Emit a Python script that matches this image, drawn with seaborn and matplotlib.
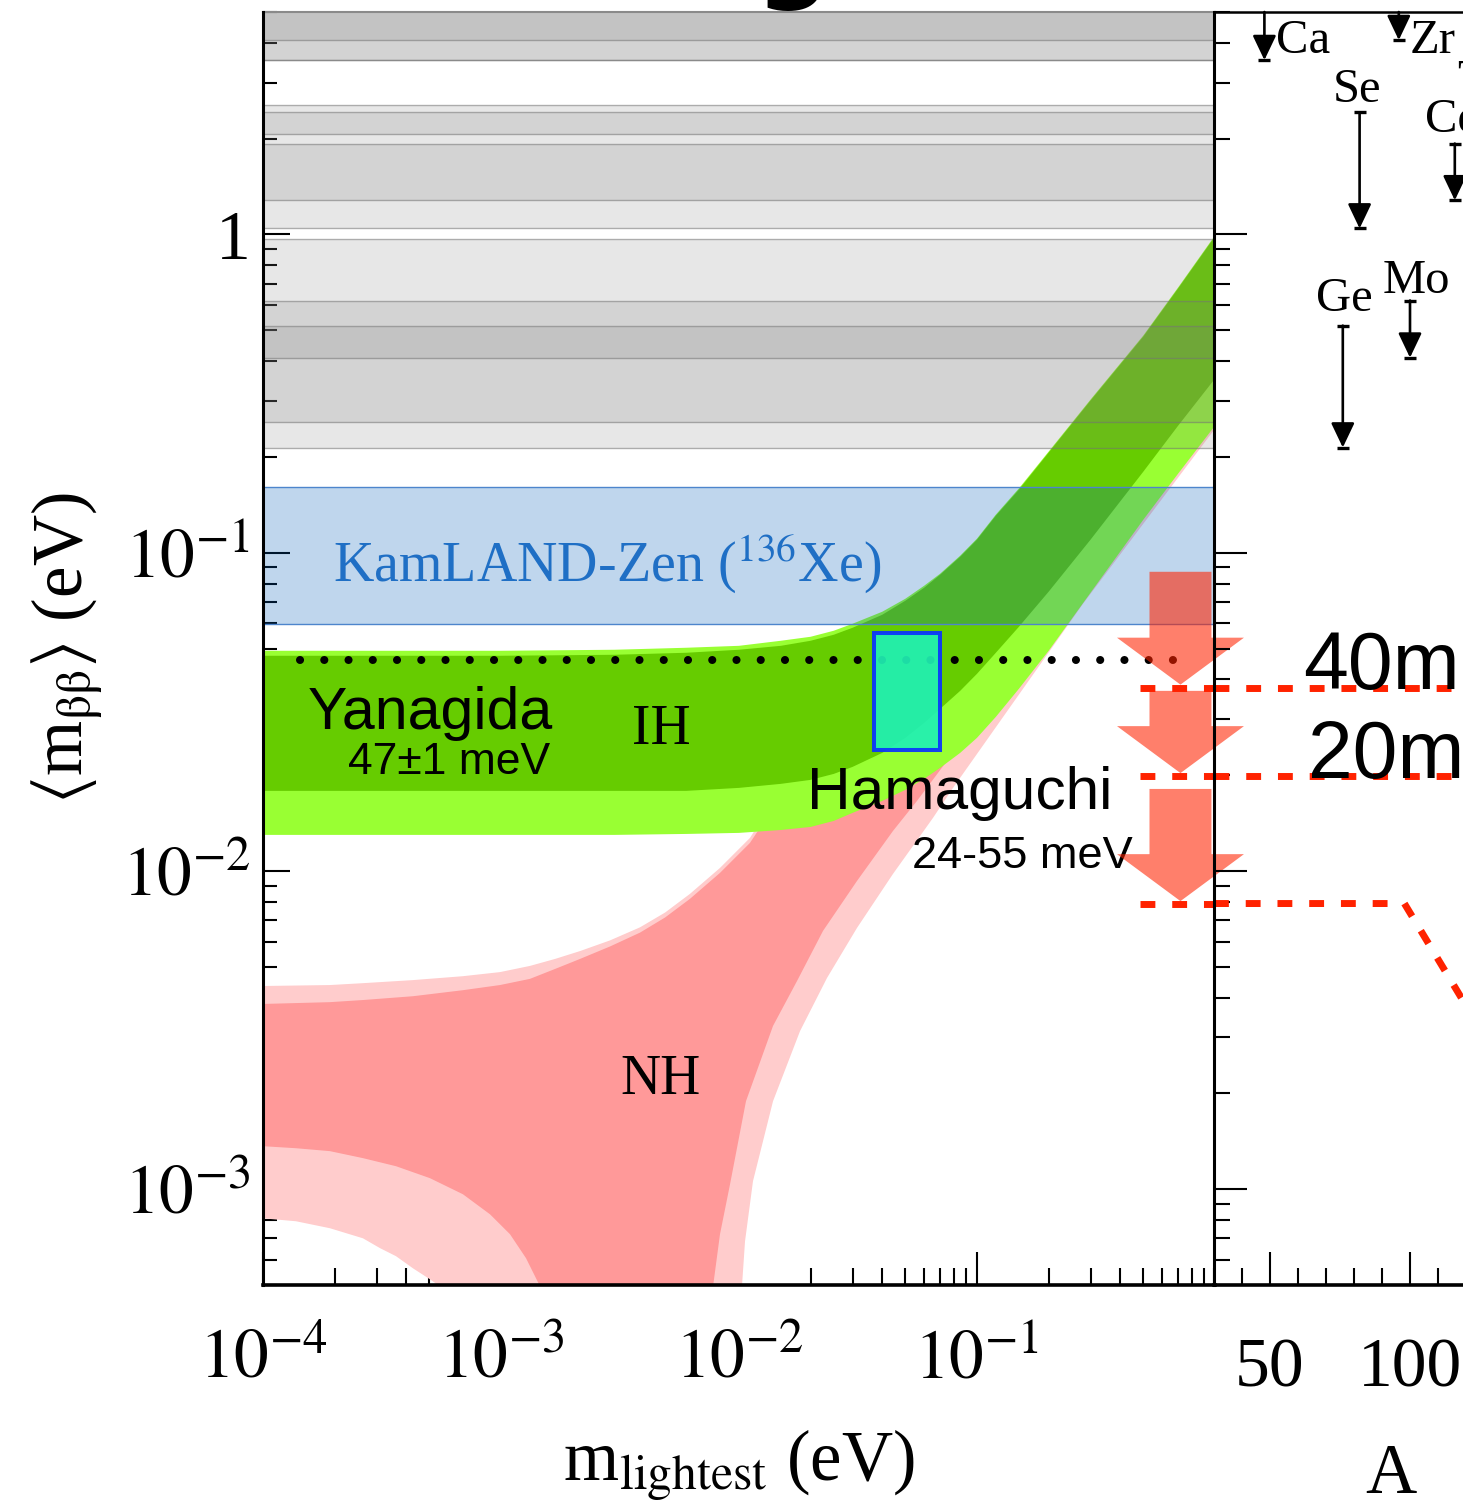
import numpy as np
import matplotlib
matplotlib.use("Agg")
import matplotlib.pyplot as plt
from matplotlib.patches import Rectangle
from matplotlib.ticker import FixedLocator, FixedFormatter, NullFormatter, MultipleLocator, LogLocator
import seaborn as sns

# ---------------- data ----------------
# Inverted hierarchy band (m_lightest in eV, <m_bb> in eV)
ih_x = [1e-4, 1e-3, 3e-3, 0.006, 0.01, 0.015, 0.02, 0.025, 0.03, 0.04, 0.05, 0.06, 0.07, 0.085,
        0.1, 0.12, 0.15, 0.2, 0.3, 0.5, 0.7, 1.0]
ih_outer_upper = [0.04918, 0.04918, 0.04955, 0.05027, 0.05098, 0.05288, 0.05443, 0.05685, 0.05979, 0.06524,
                  0.07166, 0.07875, 0.08590, 0.09786, 0.1107, 0.1317, 0.1592, 0.2078, 0.3028, 0.4814, 0.6814, 0.9928]
ih_inner_upper = [0.04744, 0.04744, 0.04778, 0.04848, 0.04955, 0.05098, 0.05288, 0.05522, 0.05809, 0.06383,
                  0.07063, 0.07762, 0.08526, 0.09714, 0.1099, 0.1307, 0.1578, 0.2063, 0.3006, 0.4778, 0.6765, 0.9856]
ih_inner_lower = [0.01785, 0.01785, 0.01785, 0.01785, 0.01824, 0.01878, 0.01933, 0.02018, 0.02123, 0.02350,
                  0.02620, 0.02920, 0.03232, 0.03681, 0.04164, 0.04848, 0.05851, 0.07541, 0.1099, 0.1798, 0.2507, 0.3525]
ih_outer_lower = [0.01298, 0.01298, 0.01298, 0.01307, 0.01317, 0.01345, 0.01375, 0.01436, 0.01522, 0.01660,
                  0.01798, 0.01947, 0.02108, 0.02350, 0.02620, 0.03049, 0.03736, 0.04918, 0.07486, 0.1270, 0.1772, 0.2507]

# Normal hierarchy band
nh_upper_x = [1e-4, 1.91e-4, 2.63e-4, 4.27e-4, 6.92e-4, 9.90e-4, 1.323e-3, 1.686e-3, 2.147e-3, 2.871e-3,
              3.837e-3, 4.89e-3, 6.22e-3, 8.32e-3, 1.112e-2, 1.487e-2, 2.007e-2, 3.013e-2, 4.98e-2, 0.1, 0.3013, 1.0]
nh_outer_upper_y = [4.35e-3, 4.38e-3, 4.44e-3, 4.54e-3, 4.67e-3, 4.81e-3, 5.03e-3, 5.29e-3, 5.60e-3, 6.05e-3,
                    6.65e-3, 7.40e-3, 8.47e-3, 1.022e-2, 1.270e-2, 1.785e-2, 3.42e-2, 4.57e-2, 6.67e-2, 0.1007, 0.2797, 0.917]
nh_inner_upper_y = [3.82e-3, 3.87e-3, 3.93e-3, 4.04e-3, 4.22e-3, 4.38e-3, 4.58e-3, 4.92e-3, 5.29e-3, 5.79e-3,
                    6.40e-3, 7.14e-3, 8.17e-3, 9.86e-3, 1.225e-2, 1.70e-2, 3.3e-2, 4.4e-2, 6.5e-2, 0.098, 0.27, 0.90]
nh_outer_lowL_x = [1e-4, 1.376e-4, 1.91e-4, 2.63e-4, 3.10e-4, 3.62e-4, 4.27e-4, 5.03e-4, 5.54e-4]
nh_outer_lowL_y = [8.10e-4, 7.93e-4, 7.54e-4, 7.01e-4, 6.53e-4, 6.16e-4, 5.64e-4, 5.21e-4, 4.95e-4]
nh_outer_lowR_x = [1.029e-2, 1.060e-2, 1.145e-2, 1.390e-2, 1.805e-2, 2.343e-2, 3.131e-2, 4.437e-2, 6.533e-2,
                   7.93e-2, 0.2789, 1.0]
nh_outer_lowR_y = [4.95e-4, 6.86e-4, 1.060e-3, 1.891e-3, 3.14e-3, 4.61e-3, 6.62e-3, 9.79e-3, 1.468e-2,
                   1.824e-2, 6.91e-2, 0.2454]
nh_inner_lowL_x = [1e-4, 1.376e-4, 1.91e-4, 2.63e-4, 3.62e-4, 5.03e-4, 6.92e-4, 8.99e-4, 1.091e-3, 1.274e-3, 1.459e-3]
nh_inner_lowL_y = [1.365e-3, 1.345e-3, 1.317e-3, 1.252e-3, 1.181e-3, 1.083e-3, 9.64e-4, 8.34e-4, 7.22e-4, 6.07e-4, 4.95e-4]
nh_inner_lowR_x = [7.78e-3, 8.32e-3, 9.17e-3, 1.070e-2, 1.390e-2, 1.753e-2, 2.254e-2, 3.131e-2, 4.437e-2,
                   5.596e-2, 0.1, 0.2025, 1.0]
nh_inner_lowR_y = [4.95e-4, 7.22e-4, 1.037e-3, 1.891e-3, 3.26e-3, 4.51e-3, 6.48e-3, 9.30e-3, 1.336e-2,
                   1.660e-2, 2.962e-2, 5.90e-2, 0.2797]

# Experimental limit ranges (eV): gray bands, one per experiment, and arrows vs mass number A
exp_names = ["Ca", "Ge", "Se", "Zr", "Mo", "Cd", "Te", "Te2", "Nd"]
exp_lo = [3.53, 0.214, 1.044, 4.08, 0.410, 1.28, 2.063, 0.258, 3.53]
exp_hi = [10.0, 0.517, 2.42, 10.0, 0.620, 1.93, 2.545, 0.971, 10.0]
exp_A = [48, 76, 82, 96, 100, 116, 128, 130, 150]

kamland_range = [0.0598, 0.1612]

yanagida_mbb = 0.046
yanagida_x = [1.43e-4, 0.824]

hamaguchi_m = [0.037, 0.070]
hamaguchi_mbb = [0.024, 0.056]

# future sensitivities (eV)
sens_levels = [0.0376, 0.0199, 0.0079]
sens_arrow_top = [0.0871, 0.0368, 0.0181]
sens_arrow_tip = [0.0385, 0.0203, 0.00804]
sens_labels = ["40meV", "20meV"]

xtick_vals = [1e-4, 1e-3, 1e-2, 1e-1]
xtick_labels = [r"$10^{-4}$", r"$10^{-3}$", r"$10^{-2}$", r"$10^{-1}$"]
ytick_vals = [1e-3, 1e-2, 1e-1, 1.0]
ytick_labels = [r"$10^{-3}$", r"$10^{-2}$", r"$10^{-1}$", "1"]
A_tick_vals = [50, 100]
A_tick_labels = ["50", "100"]

# ---------------- style ----------------
sns.set_style("ticks")
plt.rcParams.update({
    "font.family": ["Liberation Serif", "DejaVu Serif"],
    "mathtext.fontset": "stix",
    "axes.linewidth": 2.2,
    "text.color": "black",
    "axes.labelcolor": "black",
    "axes.edgecolor": "black",
    "xtick.color": "black",
    "ytick.color": "black",
})
SANS = ["Liberation Sans", "DejaVu Sans"]

W, H = 1463, 1511
fig = plt.figure(figsize=(W / 100, H / 100), dpi=100)
ax = fig.add_axes([263 / W, (H - 1285) / H, 952 / W, 1273 / H])
axr = fig.add_axes([1214 / W, (H - 1285) / H, 352.8 / W, 1273 / H])

for a in (ax, axr):
    a.set_yscale("log")
    a.set_ylim(5e-4, 5)
ax.set_xscale("log")
ax.set_xlim(1e-4, 1)
axr.set_xlim(30, 156)
axr.patch.set_alpha(0)


def polygon(up_x, up_y, lowR_x, lowR_y, lowL_x=None, lowL_y=None, floor=1e-7):
    xs = list(up_x) + list(lowR_x)[::-1]
    ys = list(up_y) + list(lowR_y)[::-1]
    if lowL_x is not None:
        xs += [lowR_x[0], lowL_x[-1]] + list(lowL_x)[::-1]
        ys += [floor, floor] + list(lowL_y)[::-1]
    return xs, ys


# NH bands
xs, ys = polygon(nh_upper_x, nh_outer_upper_y, nh_outer_lowR_x, nh_outer_lowR_y, nh_outer_lowL_x, nh_outer_lowL_y)
ax.fill(xs, ys, color="#ffcccc", lw=0, zorder=1.0)
xs, ys = polygon(nh_upper_x, nh_inner_upper_y, nh_inner_lowR_x, nh_inner_lowR_y, nh_inner_lowL_x, nh_inner_lowL_y)
ax.fill(xs, ys, color="#ff9999", lw=0, zorder=1.1)
# IH bands
xs, ys = polygon(ih_x, ih_outer_upper, ih_x, ih_outer_lower)
ax.fill(xs, ys, color="#99ff33", lw=0, zorder=1.2)
xs, ys = polygon(ih_x, ih_inner_upper, ih_x, ih_inner_lower)
ax.fill(xs, ys, color="#66cc00", lw=0, zorder=1.3)

# gray experimental bands
for lo, hi in zip(exp_lo, exp_hi):
    ax.axhspan(lo, hi, facecolor=(0.49, 0.49, 0.49, 0.186),
               edgecolor=(0.45, 0.45, 0.45, 0.55), lw=1.0, zorder=2)
# KamLAND-Zen band
ax.axhspan(kamland_range[0], kamland_range[1], facecolor=(0.0, 0.373, 0.733, 0.25),
           edgecolor=(0.30, 0.52, 0.80, 1.0), lw=1.0, zorder=2.1)

# Yanagida dotted line
sns.lineplot(x=yanagida_x, y=[yanagida_mbb] * 2, ax=ax, color="black", lw=5.8,
             linestyle=(0, (0.01, 3.0)), dash_capstyle="round", zorder=3, sort=False)

# Hamaguchi box
ax.add_patch(Rectangle((hamaguchi_m[0], hamaguchi_mbb[0]),
                       hamaguchi_m[1] - hamaguchi_m[0], hamaguchi_mbb[1] - hamaguchi_mbb[0],
                       facecolor="#20f0b4", alpha=0.92, edgecolor="#0a32ff", lw=2.9, zorder=4))

# texts
ax.text(1.968e-4, 0.0816, r"KamLAND-Zen ($^{136}$Xe)", color="#1f6fc5", fontsize=40.3, va="baseline", zorder=5)
ax.text(1.545e-4, 0.0280, "Yanagida", family=SANS, fontsize=42.5, va="baseline", zorder=5)
ax.text(2.276e-4, 0.0202, "47±1 meV", family=SANS, fontsize=32, va="baseline", zorder=5)
ax.text(3.552e-3, 0.02507, "IH", fontsize=40, va="baseline", zorder=5)
ax.text(0.01931, 0.01567, "Hamaguchi", family=SANS, fontsize=43.5, va="baseline", zorder=5)
ax.text(0.05331, 0.01022, "24-55 meV", family=SANS, fontsize=32.5, va="baseline", zorder=5)
ax.text(3.162e-3, 1.989e-3, "NH", fontsize=40, va="baseline", zorder=5)

# sensitivity arrows
for top, tip in zip(sens_arrow_top, sens_arrow_tip):
    ax.annotate("", xy=(0.716, tip), xytext=(0.716, top),
                arrowprops=dict(arrowstyle="simple,head_length=33.8,head_width=91.4,tail_width=44.6",
                                mutation_scale=1, fc="#ff2200", ec="none", alpha=0.58,
                                shrinkA=0, shrinkB=0),
                annotation_clip=False, zorder=6)

# dashed sensitivity lines
dash = (0, (2.14, 2.43))
for lev in sens_levels:
    sns.lineplot(x=[0.484, 1.0], y=[lev, lev], ax=ax, color="#ff2200", lw=5.0,
                 linestyle=dash, zorder=7, sort=False)
sns.lineplot(x=[30, 156], y=[sens_levels[0]] * 2, ax=axr, color="#ff2200", lw=5.0, linestyle=dash, zorder=7, sort=False)
sns.lineplot(x=[30, 156], y=[sens_levels[1]] * 2, ax=axr, color="#ff2200", lw=5.0, linestyle=dash, zorder=7, sort=False)
sns.lineplot(x=[30, 98, 130], y=[sens_levels[2], sens_levels[2], 0.0027], ax=axr, color="#ff2200",
             lw=5.0, linestyle=dash, zorder=7, sort=False)
for lab, lev, A in zip(sens_labels, [0.03736, 0.01961], [61.8, 63.6]):
    axr.text(A, lev, lab, family=SANS, fontsize=58, va="baseline", zorder=8)

# right panel: limit arrows
for name, A, lo, hi in zip(exp_names, exp_A, exp_lo, exp_hi):
    top = min(hi, 5.0)
    axr.annotate("", xy=(A, lo), xytext=(A, top),
                 arrowprops=dict(arrowstyle="-|>,head_length=0.42,head_width=0.2", mutation_scale=36,
                                 lw=1.9, color="black", shrinkA=0, shrinkB=0))
    axr.plot([A], [lo], marker="_", ms=9, mew=2.4, color="black")
    if hi < 5.0:
        axr.plot([A], [hi], marker="_", ms=9, mew=2.4, color="black")

label_pos = {"Ca": (52.1, 3.709), "Zr": (100.0, 3.709), "Se": (72.5, 2.601), "Cd": (105.4, 2.093),
             "Ge": (66.4, 0.5768), "Mo": (90.4, 0.657), "Te": (116.8, 2.776)}
for name, (A, y) in label_pos.items():
    axr.text(A, y, name, fontsize=35, va="baseline")

# ---------------- axes styling ----------------
ax.spines["right"].set_visible(False)
ax.spines["top"].set_color("#8a8a8a")
ax.spines["top"].set_linewidth(1.5)
ax.spines["bottom"].set_linewidth(2.6)
axr.spines["right"].set_visible(False)
axr.spines["top"].set_linewidth(1.8)
axr.spines["bottom"].set_linewidth(2.6)
for a in (ax, axr):
    a.spines["left"].set_zorder(10)

ax.xaxis.set_major_locator(FixedLocator(xtick_vals))
ax.xaxis.set_major_formatter(FixedFormatter(xtick_labels))
ax.xaxis.set_minor_locator(LogLocator(base=10, subs=np.arange(2, 10)))
ax.xaxis.set_minor_formatter(NullFormatter())
ax.yaxis.set_major_locator(FixedLocator(ytick_vals))
ax.yaxis.set_major_formatter(FixedFormatter(ytick_labels))
ax.yaxis.set_minor_locator(LogLocator(base=10, subs=np.arange(2, 10), numticks=20))
ax.yaxis.set_minor_formatter(NullFormatter())

ax.tick_params(which="both", direction="in", top=False, right=False, width=1.5, color="black")
ax.tick_params(axis="x", which="major", length=24, labelsize=50, pad=32)
ax.tick_params(axis="x", which="minor", length=12)
ax.tick_params(axis="y", which="major", length=19.5, labelsize=50, pad=9)
ax.tick_params(axis="y", which="minor", length=10)

axr.xaxis.set_major_locator(FixedLocator(A_tick_vals))
axr.xaxis.set_major_formatter(FixedFormatter(A_tick_labels))
axr.xaxis.set_minor_locator(MultipleLocator(10))
axr.yaxis.set_major_locator(FixedLocator(ytick_vals))
axr.yaxis.set_major_formatter(NullFormatter())
axr.yaxis.set_minor_locator(LogLocator(base=10, subs=np.arange(2, 10), numticks=20))
axr.yaxis.set_minor_formatter(NullFormatter())
axr.tick_params(which="both", direction="in", top=False, right=False, width=1.5)
axr.tick_params(axis="x", which="major", length=24, labelsize=50, pad=38)
axr.tick_params(axis="x", which="minor", length=12)
axr.tick_params(axis="y", which="major", length=24)
axr.tick_params(axis="y", which="minor", length=11.5)

ax.set_xlabel(r"m$_{\rm lightest}$ (eV)", fontsize=51, labelpad=25)
ax.set_ylabel(r"$\langle$m$_{\mathrm{\beta\beta}}\rangle$ (eV)", fontsize=51, labelpad=12)
axr.set_xlabel("A", fontsize=51, labelpad=30)

# cut-off title glyph
fig.text(793 / W, 1 - 11 / H, "g", ha="center", va="bottom", fontsize=75,
         fontweight="bold", family="DejaVu Sans")

fig.savefig("out.png", dpi=100)
